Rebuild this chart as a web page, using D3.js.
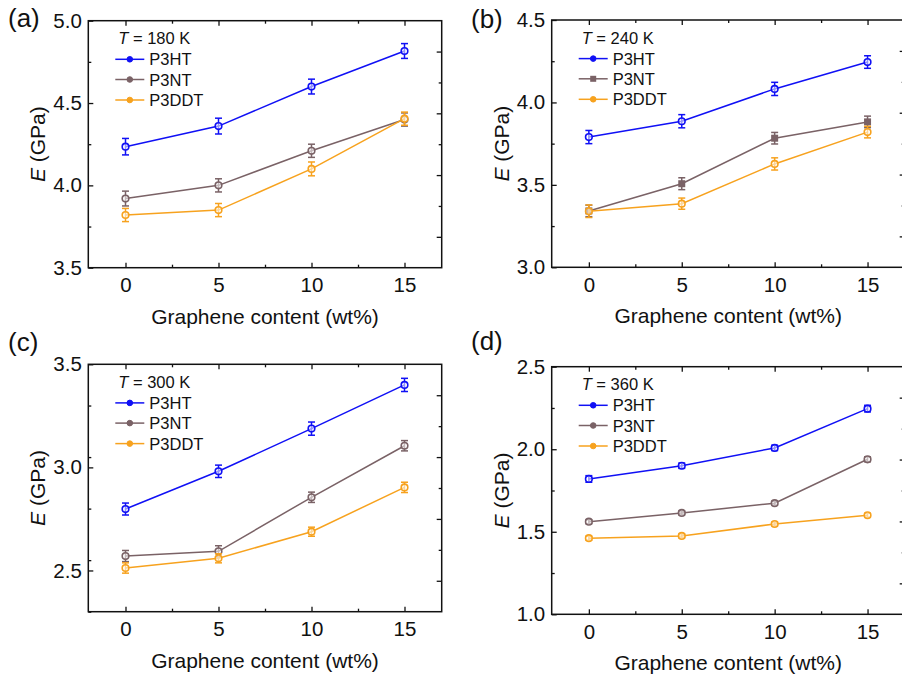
<!DOCTYPE html>
<html><head><meta charset="utf-8">
<script src="https://cdn.jsdelivr.net/npm/d3@7"></script>
<style>html,body{margin:0;padding:0;background:#fff;overflow:hidden}svg{display:block}</style>
</head><body>
<script>
// ---- data ----
const contents = [0, 5, 10, 15];
const xTickLabels = [0, 5, 10, 15];
const xMinorTicks = [2.5, 7.5, 12.5];
const panelLabels = ["(a)", "(b)", "(c)", "(d)"];
const temperatures = [180, 240, 300, 360];
const seriesNames = ["P3HT", "P3NT", "P3DDT"];
const seriesColors = ["#1010f5", "#7a6266", "#f7a21e"];

const yDomainA = [3.5, 5.0], yTicksA = [3.5, 4.0, 4.5, 5.0];
const yDomainB = [3.0, 4.5], yTicksB = [3.0, 3.5, 4.0, 4.5];
const yDomainC = [2.3, 3.5], yTicksC = [2.5, 3.0, 3.5];
const yDomainD = [1.0, 2.5], yTicksD = [1.0, 1.5, 2.0, 2.5];

const a_P3HT = [4.235, 4.36, 4.60, 4.816], a_P3HT_err = [0.05, 0.048, 0.045, 0.045];
const a_P3NT = [3.92, 4.00, 4.21, 4.40], a_P3NT_err = [0.045, 0.04, 0.04, 0.04];
const a_P3DDT = [3.82, 3.85, 4.10, 4.405], a_P3DDT_err = [0.04, 0.04, 0.042, 0.04];

const b_P3HT = [3.79, 3.886, 4.082, 4.245], b_P3HT_err = [0.04, 0.04, 0.04, 0.038];
const b_P3NT = [3.342, 3.507, 3.783, 3.882], b_P3NT_err = [0.035, 0.036, 0.035, 0.035];
const b_P3DDT = [3.34, 3.386, 3.627, 3.82], b_P3DDT_err = [0.038, 0.034, 0.037, 0.035];

const c_P3HT = [2.798, 2.981, 3.188, 3.40], c_P3HT_err = [0.029, 0.03, 0.032, 0.032];
const c_P3NT = [2.57, 2.593, 2.855, 3.105], c_P3NT_err = [0.027, 0.027, 0.025, 0.025];
const c_P3DDT = [2.512, 2.559, 2.688, 2.903], c_P3DDT_err = [0.025, 0.022, 0.022, 0.025];

const d_P3HT = [1.82, 1.90, 2.008, 2.246], d_P3HT_err = [0.02, 0.016, 0.016, 0.02];
const d_P3NT = [1.561, 1.614, 1.673, 1.939], d_P3NT_err = [0.012, 0.012, 0.012, 0.015];
const d_P3DDT = [1.461, 1.475, 1.547, 1.60], d_P3DDT_err = [0.012, 0.012, 0.012, 0.012];

// right axis (unlabelled, independent tick spacing)
const rightTicks = [1, 2, 3, 4, 5, 6, 7];

// ---- layout ----
const W = 902, H = 679;
const FONT = "'Liberation Sans', Arial, Helvetica, sans-serif";
const panels = [
  {label: panelLabels[0], T: temperatures[0], dom: yDomainA, ticks: yTicksA,
   vals: [a_P3HT, a_P3NT, a_P3DDT], errs: [a_P3HT_err, a_P3NT_err, a_P3DDT_err],
   box: {l: 88.3, r: 441.7, t: 20.7, b: 267.7}, lab: [8, 27], squareNT: false},
  {label: panelLabels[1], T: temperatures[1], dom: yDomainB, ticks: yTicksB,
   vals: [b_P3HT, b_P3NT, b_P3DDT], errs: [b_P3HT_err, b_P3NT_err, b_P3DDT_err],
   box: {l: 551.7, r: 904.7, t: 20, b: 267.3}, lab: [471, 27.5], squareNT: true},
  {label: panelLabels[2], T: temperatures[2], dom: yDomainC, ticks: yTicksC,
   vals: [c_P3HT, c_P3NT, c_P3DDT], errs: [c_P3HT_err, c_P3NT_err, c_P3DDT_err],
   box: {l: 88.3, r: 441.7, t: 364.3, b: 611.7}, lab: [8, 351], squareNT: false},
  {label: panelLabels[3], T: temperatures[3], dom: yDomainD, ticks: yTicksD,
   vals: [d_P3HT, d_P3NT, d_P3DDT], errs: [d_P3HT_err, d_P3NT_err, d_P3DDT_err],
   box: {l: 551.7, r: 904.7, t: 366.7, b: 614.3}, lab: [471, 350], squareNT: false}
];

const svg = d3.select("body").append("svg").attr("width", W).attr("height", H)
  .style("font-family", FONT);

panels.forEach(p => {
  const {l, r, t, b} = p.box;
  const x = d3.scaleLinear().domain([-2, 17]).range([l, r]);
  const y = d3.scaleLinear().domain(p.dom).range([b, t]);
  const yR = d3.scaleLinear().domain([0, 8]).range([b, t]);
  const g = svg.append("g");

  // minor y ticks
  const yMinor = d3.range(p.dom[0], p.dom[1] + 1e-9, 0.25)
    .map(v => +v.toFixed(3)).filter(v => !p.ticks.some(tk => Math.abs(tk - v) < 1e-6));

  const axStyle = sel => {
    sel.select(".domain").remove();
    sel.selectAll("line").attr("stroke", "#111").attr("stroke-width", 1.3);
  };
  // bottom major
  g.append("g").attr("transform", `translate(0,${b})`)
    .call(d3.axisBottom(x).tickValues(xTickLabels).tickSizeInner(-5).tickSizeOuter(0).tickPadding(9).tickFormat(d3.format("d")))
    .call(axStyle)
    .call(s => s.selectAll("text").attr("font-size", 20.5).attr("fill", "#111").attr("dy", "0.71em").attr("y", 10));
  // bottom minor
  g.append("g").attr("transform", `translate(0,${b})`)
    .call(d3.axisBottom(x).tickValues(xMinorTicks).tickSizeInner(-3).tickSizeOuter(0).tickFormat(""))
    .call(axStyle);
  // top
  g.append("g").attr("transform", `translate(0,${t})`)
    .call(d3.axisTop(x).tickValues(xTickLabels).tickSizeInner(-5).tickSizeOuter(0).tickFormat(""))
    .call(axStyle);
  g.append("g").attr("transform", `translate(0,${t})`)
    .call(d3.axisTop(x).tickValues(xMinorTicks).tickSizeInner(-3).tickSizeOuter(0).tickFormat(""))
    .call(axStyle);
  // left
  g.append("g").attr("transform", `translate(${l},0)`)
    .call(d3.axisLeft(y).tickValues(p.ticks).tickSizeInner(-5).tickSizeOuter(0).tickPadding(7).tickFormat(d3.format(".1f")))
    .call(axStyle)
    .call(s => s.selectAll("text").attr("font-size", 20.5).attr("fill", "#111").attr("x", -6.5));
  g.append("g").attr("transform", `translate(${l},0)`)
    .call(d3.axisLeft(y).tickValues(yMinor).tickSizeInner(-3).tickSizeOuter(0).tickFormat(""))
    .call(axStyle);
  // right
  g.append("g").attr("transform", `translate(${r},0)`)
    .call(d3.axisRight(yR).tickValues(rightTicks.filter(v => v % 2 === 1)).tickSizeInner(-5).tickSizeOuter(0).tickFormat(""))
    .call(axStyle);
  g.append("g").attr("transform", `translate(${r},0)`)
    .call(d3.axisRight(yR).tickValues(rightTicks.filter(v => v % 2 === 0)).tickSizeInner(-3).tickSizeOuter(0).tickFormat(""))
    .call(axStyle);

  // frame
  g.append("rect").attr("x", l).attr("y", t).attr("width", r - l).attr("height", b - t)
    .attr("fill", "none").attr("stroke", "#111").attr("stroke-width", 1.5);

  // series
  const line = d3.line().x((d, i) => x(contents[i])).y(d => y(d));
  p.vals.forEach((vals, si) => {
    const col = seriesColors[si];
    const sg = g.append("g");
    sg.append("path").attr("d", line(vals)).attr("fill", "none").attr("stroke", col).attr("stroke-width", 1.5);
    vals.forEach((v, i) => {
      const e = p.errs[si][i];
      const cx = x(contents[i]);
      sg.append("line").attr("x1", cx).attr("x2", cx).attr("y1", y(v - e)).attr("y2", y(v + e))
        .attr("stroke", col).attr("stroke-width", 1.5);
      [v - e, v + e].forEach(ev => sg.append("line").attr("x1", cx - 3.5).attr("x2", cx + 3.5)
        .attr("y1", y(ev)).attr("y2", y(ev)).attr("stroke", col).attr("stroke-width", 1.5));
      if (p.squareNT && si === 1) {
        sg.append("rect").attr("x", cx - 3.5).attr("y", y(v) - 3.5).attr("width", 7).attr("height", 7).attr("fill", col);
      } else {
        sg.append("circle").attr("cx", cx).attr("cy", y(v)).attr("r", 3.3)
          .attr("fill", "#fff").attr("fill-opacity", 0.55).attr("stroke", col).attr("stroke-width", 1.6);
      }
    });
  });

  // legend
  const lg = g.append("g");
  const tt = lg.append("text").attr("x", l + 30).attr("y", t + 17.5).attr("dominant-baseline", "central")
    .attr("font-size", 16.5).attr("fill", "#111");
  tt.append("tspan").attr("font-style", "italic").text("T");
  tt.append("tspan").text(` = ${p.T} K`);
  seriesNames.forEach((nm, si) => {
    const yy = t + [38.6, 58.8, 79.3][si];
    const col = seriesColors[si];
    lg.append("line").attr("x1", l + 27).attr("x2", l + 56).attr("y1", yy).attr("y2", yy)
      .attr("stroke", col).attr("stroke-width", 1.5);
    if (p.squareNT && si === 1) {
      lg.append("rect").attr("x", l + 41.5 - 3).attr("y", yy - 3).attr("width", 6).attr("height", 6).attr("fill", col);
    } else {
      lg.append("circle").attr("cx", l + 41.5).attr("cy", yy).attr("r", 2.8)
        .attr("fill", col).attr("stroke", col).attr("stroke-width", 1);
    }
    lg.append("text").attr("x", l + 61).attr("y", yy).attr("dominant-baseline", "central")
      .attr("font-size", 16.5).attr("fill", "#111").text(nm);
  });

  // axis titles
  const xt = g.append("text").attr("x", (l + Math.min(r, 904.7)) / 2 + 0).attr("y", b + 56)
    .attr("text-anchor", "middle").attr("font-size", 21).attr("fill", "#111");
  xt.text("Graphene content (wt%)");
  xt.attr("x", x(7.5) + (l < 300 ? 0 : 0));
  const yt = g.append("text").attr("transform", `translate(${l - 51},${(t + b) / 2}) rotate(-90)`)
    .attr("text-anchor", "middle").attr("dominant-baseline", "central").attr("font-size", 21).attr("fill", "#111");
  yt.append("tspan").attr("font-style", "italic").text("E");
  yt.append("tspan").text(" (GPa)");

  // panel label
  svg.append("text").attr("x", p.lab[0]).attr("y", p.lab[1]).attr("font-size", 26).attr("fill", "#111").text(p.label);
});
</script>
</body></html>
